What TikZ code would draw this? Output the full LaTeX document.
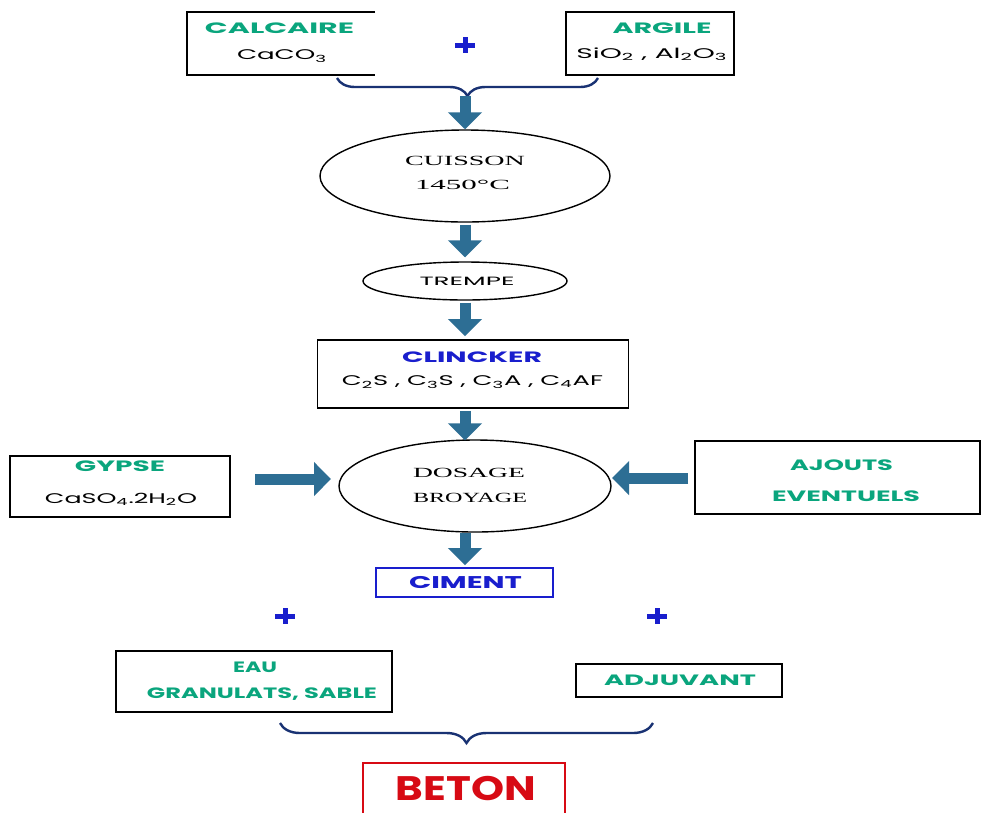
\documentclass[tikz,border=0pt]{standalone}
\usepackage{fontspec}
\usepackage{graphicx}
\setmainfont{Poppins}
\newfontfamily\serifc{Liberation Serif}
\usetikzlibrary{shapes.geometric,arrows.meta,decorations.pathreplacing}
\definecolor{tealc}{RGB}{10,165,125}
\definecolor{bluec}{RGB}{25,30,205}
\definecolor{redc}{RGB}{215,10,20}
\definecolor{arrowc}{RGB}{45,110,148}
\definecolor{bracec}{RGB}{25,50,115}
\newcommand{\stw}[2]{\resizebox{#1pt}{\height}{#2}}
\begin{document}
\begin{tikzpicture}[x=1pt,y=-1pt,
  frame/.style={draw=black,line width=1.8pt,rectangle,inner sep=0pt},
  oval/.style={draw=black,line width=1.4pt,ellipse,inner sep=0pt},
  head/.style={inner sep=0pt,font=\fontsize{15}{18}\selectfont\bfseries,text=tealc},
  formula/.style={inner sep=0pt,font=\fontsize{14}{17}\selectfont},
  serifline/.style={inner sep=0pt,font=\fontsize{14}{17}\selectfont\serifc},
  flow/.style={draw=arrowc,line width=11pt,-{Triangle[width=33pt,length=17pt]}},
  plussign/.style={draw=bluec,line width=5pt},
  bracedraw/.style={draw=bracec,line width=2.4pt,decorate,decoration={brace,mirror,amplitude=#1,aspect=0.5}}
]
\useasboundingbox (0,0) rectangle (981,812);
\clip (0,0) rectangle (981,812);
\fill[white] (0,0) rectangle (981,812);

% top inputs
\node[rectangle,minimum width=188pt,minimum height=63pt,inner sep=0pt] (calc) at (281,43.5) {};
\draw[line width=1.8pt] (calc.north east) -- (calc.north west) -- (calc.south west) -- (calc.south east);
\node[head] (calct) at (279.5,28) {\stw{149}{CALCAIRE}};
\node[formula] (calcf) at (282,56) {\stw{90}{CaCO\textsubscript{3}}};
\draw[plussign] (465,45) +(-10,0) -- +(10,0) +(0,-8) -- +(0,8);
\node[frame,minimum width=168pt,minimum height=63pt] (arg) at (650,43.5) {};
\node[head] (argt) at (662,28) {\stw{99}{ARGILE}};
\node[formula] (argf) at (652,54) {\stw{151}{SiO\textsubscript{2} , Al\textsubscript{2}O\textsubscript{3}}};

\coordinate (b1l) at (337,78);
\coordinate (b1r) at (598,78);
\draw[bracedraw=18pt] (b1l) -- (b1r);
\coordinate (b1tip) at (465,96);

% cuisson
\node[oval,minimum width=290pt,minimum height=92pt] (cuis) at (465,176) {};
\node[serifline] (cuist) at (465,161) {\stw{120}{CUISSON}};
\node[serifline] (cuisf) at (462.5,185) {\stw{95}{1450°C}};
\draw[flow] (b1tip) -- (cuis.north);

% trempe
\node[oval,minimum width=204pt,minimum height=38pt] (trem) at (465,281) {};
\node[formula,font=\fontsize{12}{14}\selectfont] (tremt) at (467,281) {\stw{95}{TREMPE}};
\draw[flow,shorten <=2pt,shorten >=4pt] (cuis.south) -- (cuis.south |- trem.north);

% clincker
\node[frame,minimum width=311pt,minimum height=68pt] (clin) at (473,374) {};
\node[head,text=bluec] (clint) at (472,357) {\stw{140}{CLINCKER}};
\node[formula] (clinf) at (472.5,382) {\stw{261}{C\textsubscript{2}S , C\textsubscript{3}S , C\textsubscript{3}A , C\textsubscript{4}AF}};
\draw[flow,shorten <=2pt,shorten >=3pt] (cuis.south |- trem.south) -- (cuis.south |- clin.north);

% dosage
\node[oval,minimum width=272pt,minimum height=92pt] (dos) at (475,486) {};
\node[serifline] (dost) at (469,473) {\stw{112}{DOSAGE}};
\node[serifline] (dosf) at (470,498) {\stw{114}{BROYAGE}};
\draw[flow,shorten <=2pt,shorten >=-1pt] (cuis.south |- clin.south) -- (cuis.south |- dos.north);

% gypse
\node[frame,minimum width=220pt,minimum height=61pt] (gyp) at (120,486.5) {};
\node[head] (gypt) at (120,466) {\stw{90}{GYPSE}};
\node[formula] (gypf) at (121,499) {\stw{152}{CaSO\textsubscript{4}.2H\textsubscript{2}O}};
\coordinate (gypa) at (255,479);
\coordinate (gypb) at (331,479);
\draw[flow] (gypa) -- (gypb);

% ajouts
\node[frame,minimum width=285pt,minimum height=73pt] (ajo) at (837.5,477.5) {};
\node[head] (ajot) at (841.5,465) {\stw{103}{AJOUTS}};
\node[head] (ajof) at (846,496) {\stw{148}{EVENTUELS}};
\coordinate (ajoa) at (688,478);
\coordinate (ajob) at (612,478);
\draw[flow] (ajoa) -- (ajob);

% ciment
\node[rectangle,draw=bluec,line width=1.8pt,minimum width=177pt,minimum height=29pt,inner sep=0pt] (cim) at (464.5,582.5) {};
\node[inner sep=0pt,font=\fontsize{17}{20}\selectfont\bfseries,text=bluec] (cimt) at (465.5,582) {\stw{113}{CIMENT}};
\draw[flow,shorten <=0pt,shorten >=2pt] (cuis.south |- dos.south) -- (cuis.south |- cim.north);

\draw[plussign] (285,616) +(-10,0) -- +(10,0) +(0,-8) -- +(0,8);
\draw[plussign] (657,616) +(-10,0) -- +(10,0) +(0,-8) -- +(0,8);

% eau
\node[frame,minimum width=276pt,minimum height=61pt] (eau) at (254,681.5) {};
\node[head] (eaut) at (255,667.5) {\stw{44}{EAU}};
\node[head] (eauf) at (262,694) {\stw{230}{GRANULATS, SABLE}};

% adjuvant
\node[frame,minimum width=206pt,minimum height=33pt] (adj) at (679,680.5) {};
\node[head] (adjt) at (680,680.5) {\stw{152}{ADJUVANT}};

\coordinate (b2l) at (280,723);
\coordinate (b2r) at (653,723);
\draw[bracedraw=20pt] (b2l) -- (b2r);

% beton
\node[rectangle,draw=redc,line width=2.2pt,minimum width=202pt,minimum height=62pt,inner sep=0pt,
  anchor=north] (bet) at (464,762) {};
\node[inner sep=0pt,font=\fontsize{34}{36}\selectfont\bfseries,text=redc] (bett) at (466,788) {\stw{140}{BETON}};
\end{tikzpicture}
\end{document}
